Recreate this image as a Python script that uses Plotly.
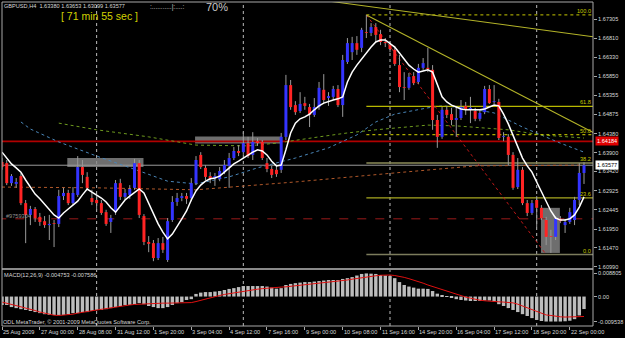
import plotly.graph_objects as go

# ---------------- data ----------------
tick_idx = list(range(0, 121, 8))
tick_labels = ["25 Aug 2009", "27 Aug 00:00", "28 Aug 08:00", "31 Aug 12:00", "1 Sep 20:00",
               "3 Sep 04:00", "4 Sep 12:00", "7 Sep 16:00", "9 Sep 00:00", "10 Sep 08:00",
               "11 Sep 16:00", "14 Sep 20:00", "16 Sep 04:00", "17 Sep 12:00", "18 Sep 20:00",
               "22 Sep 00:00"]

opens = [1.6366, 1.6363, 1.6312, 1.6310, 1.6330, 1.6261, 1.6231, 1.6246, 1.6226, 1.6215,
         1.6205, 1.6210, 1.6208, 1.6279, 1.6287, 1.6261, 1.6282, 1.6353, 1.6328, 1.6274,
         1.6269, 1.6261, 1.6238, 1.6213, 1.6238, 1.6312, 1.6277, 1.6282, 1.6300, 1.6363,
         1.6228, 1.6162, 1.6159, 1.6121, 1.6159, 1.6116, 1.6218, 1.6264, 1.6274, 1.6279,
         1.6274, 1.6312, 1.6384, 1.6351, 1.6330, 1.6325, 1.6323, 1.6340, 1.6356, 1.6376,
         1.6394, 1.6391, 1.6414, 1.6384, 1.6419, 1.6417, 1.6363, 1.6348, 1.6346, 1.6346,
         1.6430, 1.6562, 1.6511, 1.6496, 1.6516, 1.6506, 1.6486, 1.6506, 1.6550, 1.6529,
         1.6532, 1.6552, 1.6511, 1.6621, 1.6646, 1.6669, 1.6657, 1.6697, 1.6695, 1.6710,
         1.6692, 1.6672, 1.6664, 1.6652, 1.6613, 1.6557, 1.6555, 1.6585, 1.6570, 1.6606,
         1.6606, 1.6601, 1.6473, 1.6430, 1.6499, 1.6488, 1.6473, 1.6478, 1.6509, 1.6501,
         1.6496, 1.6476, 1.6493, 1.6552, 1.6519, 1.6519, 1.6430, 1.6430, 1.6384, 1.6302,
         1.6346, 1.6261, 1.6236, 1.6269, 1.6249, 1.6218, 1.6177, 1.6175, 1.6221, 1.6205,
         1.6213, 1.6218, 1.6269, 1.63380]
highs = [1.6376, 1.6371, 1.6335, 1.6325, 1.6338, 1.6269, 1.6254, 1.6251, 1.6236, 1.6228,
         1.6231, 1.6218, 1.6295, 1.6300, 1.6295, 1.6302, 1.6381, 1.6371, 1.6340, 1.6295,
         1.6279, 1.6269, 1.6244, 1.6231, 1.6320, 1.6323, 1.6297, 1.6307, 1.6374, 1.6371,
         1.6233, 1.6177, 1.6167, 1.6172, 1.6175, 1.6223, 1.6279, 1.6287, 1.6287, 1.6287,
         1.6325, 1.6381, 1.6391, 1.6358, 1.6340, 1.6338, 1.6353, 1.6371, 1.6389, 1.6404,
         1.6409, 1.6442, 1.6430, 1.6442, 1.6427, 1.6422, 1.6376, 1.6356, 1.6358, 1.6440,
         1.6588, 1.6575, 1.6521, 1.6544, 1.6532, 1.6514, 1.6529, 1.6570, 1.6590, 1.6544,
         1.6560, 1.6562, 1.6639, 1.6682, 1.6685, 1.6687, 1.6708, 1.6741, 1.6720, 1.6720,
         1.6703, 1.6682, 1.6674, 1.6662, 1.6639, 1.6595, 1.6593, 1.6595, 1.6616, 1.6631,
         1.6657, 1.6613, 1.6486, 1.6506, 1.6509, 1.6504, 1.6506, 1.6524, 1.6519, 1.6532,
         1.6504, 1.6499, 1.6560, 1.6562, 1.6562, 1.6527, 1.6442, 1.6437, 1.6391, 1.6376,
         1.6353, 1.6269, 1.6269, 1.6279, 1.6256, 1.6226, 1.6193, 1.6228, 1.6228, 1.6221,
         1.6249, 1.6277, 1.6363, 1.63653]
lows = [1.6346, 1.6307, 1.6305, 1.6300, 1.6256, 1.6159, 1.6205, 1.6213, 1.6203, 1.6198,
        1.6167, 1.6149, 1.6200, 1.6269, 1.6256, 1.6256, 1.6277, 1.6312, 1.6295, 1.6256,
        1.6244, 1.6231, 1.6203, 1.6185, 1.6231, 1.6269, 1.6269, 1.6272, 1.6295, 1.6223,
        1.6154, 1.6136, 1.6113, 1.6116, 1.6134, 1.6111, 1.6213, 1.6254, 1.6266, 1.6259,
        1.6266, 1.6307, 1.6348, 1.6320, 1.6312, 1.6305, 1.6317, 1.6335, 1.6300, 1.6371,
        1.6381, 1.6384, 1.6376, 1.6371, 1.6407, 1.6371, 1.6340, 1.6325, 1.6328, 1.6338,
        1.6422, 1.6499, 1.6486, 1.6491, 1.6499, 1.6455, 1.6481, 1.6499, 1.6516, 1.6509,
        1.6524, 1.6506, 1.6481, 1.6616, 1.6626, 1.6639, 1.6646, 1.6682, 1.6687, 1.6672,
        1.6664, 1.6659, 1.6646, 1.6611, 1.6544, 1.6524, 1.6550, 1.6562, 1.6565, 1.6601,
        1.6595, 1.6448, 1.6402, 1.6425, 1.6478, 1.6460, 1.6430, 1.6473, 1.6486, 1.6465,
        1.6470, 1.6470, 1.6488, 1.6514, 1.6514, 1.6422, 1.6419, 1.6358, 1.6295, 1.6297,
        1.6256, 1.6228, 1.6231, 1.6200, 1.6218, 1.6154, 1.6134, 1.6167, 1.6210, 1.6185,
        1.6208, 1.6205, 1.6256, 1.63099]
closes = [1.6353, 1.6312, 1.6330, 1.6315, 1.6261, 1.6231, 1.6246, 1.6223, 1.6213, 1.6205,
          1.6208, 1.6208, 1.6279, 1.6287, 1.6261, 1.6287, 1.6353, 1.6333, 1.6300, 1.6264,
          1.6261, 1.6236, 1.6208, 1.6223, 1.6312, 1.6277, 1.6287, 1.6297, 1.6363, 1.6231,
          1.6162, 1.6157, 1.6121, 1.6159, 1.6142, 1.6215, 1.6264, 1.6274, 1.6279, 1.6272,
          1.6312, 1.6371, 1.6353, 1.6328, 1.6323, 1.6330, 1.6343, 1.6358, 1.6376, 1.6394,
          1.6389, 1.6414, 1.6381, 1.6417, 1.6414, 1.6376, 1.6348, 1.6333, 1.6335, 1.6430,
          1.6562, 1.6506, 1.6493, 1.6514, 1.6509, 1.6486, 1.6506, 1.6555, 1.6524, 1.6534,
          1.6552, 1.6511, 1.6626, 1.6669, 1.6669, 1.6652, 1.6703, 1.6695, 1.6710, 1.6690,
          1.6672, 1.6669, 1.6654, 1.6616, 1.6557, 1.6555, 1.6583, 1.6567, 1.6606, 1.6618,
          1.6603, 1.6473, 1.6430, 1.6499, 1.6486, 1.6473, 1.6478, 1.6506, 1.6499, 1.6504,
          1.6476, 1.6491, 1.6552, 1.6516, 1.6521, 1.6427, 1.6432, 1.6384, 1.6300, 1.6346,
          1.6261, 1.6236, 1.6261, 1.6249, 1.6223, 1.6175, 1.6175, 1.6221, 1.6215, 1.6213,
          1.6238, 1.6269, 1.6338, 1.63577]

ma_white = [1.6391, 1.6376, 1.6361, 1.6351, 1.6340, 1.6320, 1.6302, 1.6284, 1.6272, 1.6259,
            1.6244, 1.6231, 1.6223, 1.6236, 1.6246, 1.6256, 1.6266, 1.6282, 1.6297, 1.6289,
            1.6282, 1.6274, 1.6264, 1.6249, 1.6238, 1.6254, 1.6269, 1.6279, 1.6287, 1.6297,
            1.6287, 1.6261, 1.6231, 1.6208, 1.6187, 1.6170, 1.6182, 1.6203, 1.6221, 1.6241,
            1.6269, 1.6292, 1.6307, 1.6317, 1.6323, 1.6325, 1.6330, 1.6340, 1.6351, 1.6361,
            1.6368, 1.6376, 1.6384, 1.6391, 1.6397, 1.6394, 1.6384, 1.6368, 1.6356, 1.6358,
            1.6397, 1.6440, 1.6465, 1.6476, 1.6481, 1.6488, 1.6499, 1.6509, 1.6516, 1.6521,
            1.6524, 1.6527, 1.6532, 1.6570, 1.6595, 1.6613, 1.6629, 1.6646, 1.6659, 1.6672,
            1.6677, 1.6677, 1.6669, 1.6659, 1.6644, 1.6629, 1.6613, 1.6603, 1.6595, 1.6598,
            1.6601, 1.6595, 1.6562, 1.6532, 1.6519, 1.6511, 1.6506, 1.6501, 1.6499, 1.6499,
            1.6499, 1.6499, 1.6501, 1.6506, 1.6511, 1.6509, 1.6488, 1.6463, 1.6435, 1.6404,
            1.6376, 1.6356, 1.6340, 1.6315, 1.6289, 1.6266, 1.6241, 1.6223, 1.6218, 1.6218,
            1.6221, 1.6231, 1.6251, 1.6277]

ma_blue_idx = [4, 6, 12, 20, 29, 35, 41, 48, 54, 62, 69, 75, 79, 83, 90, 93, 98, 104, 110, 118, 123]
ma_blue_val = [1.6468, 1.6450, 1.6417, 1.6381, 1.6343, 1.6317, 1.6310, 1.6328, 1.6351, 1.6376,
               1.6402, 1.6435, 1.6468, 1.6488, 1.6504, 1.6509, 1.6504, 1.6491, 1.6455, 1.6414, 1.6391]
ma_green_idx = [12, 20, 31, 41, 52, 58, 67, 73, 79, 90, 96, 107, 114, 123]
ma_green_val = [1.6465, 1.6448, 1.6430, 1.6409, 1.6407, 1.6414, 1.6430, 1.6440, 1.6448, 1.6460,
                1.6458, 1.6448, 1.6435, 1.6427]
ma_orange_idx = [0, 20, 41, 62, 83, 100, 123]
ma_orange_val = [1.6302, 1.6300, 1.6295, 1.6315, 1.6338, 1.6356, 1.6358]

macd_hist = [-0.0032, -0.0032, -0.0040, -0.0044, -0.0048, -0.0051, -0.0055, -0.0059, -0.0063, -0.0067,
             -0.0070, -0.0070, -0.0070, -0.0070, -0.0067, -0.0063, -0.0063, -0.0059, -0.0059, -0.0055,
             -0.0051, -0.0051, -0.0048, -0.0044, -0.0040, -0.0036, -0.0032, -0.0032, -0.0029, -0.0025,
             -0.0029, -0.0036, -0.0040, -0.0044, -0.0044, -0.0040, -0.0032, -0.0025, -0.0021, -0.0013,
             -0.0010, 0.0010, 0.0015, 0.0017, 0.0017, 0.0019, 0.0021, 0.0025, 0.0029, 0.0032,
             0.0036, 0.0040, 0.0040, 0.0040, 0.0040, 0.0040, 0.0038, 0.0034, 0.0030, 0.0032,
             0.0044, 0.0048, 0.0051, 0.0053, 0.0055, 0.0055, 0.0057, 0.0059, 0.0061, 0.0063,
             0.0063, 0.0063, 0.0067, 0.0070, 0.0074, 0.0080, 0.0086, 0.0088, 0.0087, 0.0086,
             0.0082, 0.0080, 0.0078, 0.0070, 0.0055, 0.0044, 0.0038, 0.0034, 0.0030, 0.0030,
             0.0029, 0.0021, 0.0011, 0.0006, 0.0002, -0.0004, -0.0010, -0.0013, -0.0015, -0.0017,
             -0.0017, -0.0017, -0.0015, -0.0015, -0.0019, -0.0029, -0.0036, -0.0044, -0.0051, -0.0059,
             -0.0067, -0.0074, -0.0082, -0.0089, -0.0093, -0.0095, -0.0095, -0.0095, -0.0095, -0.0094,
             -0.0092, -0.0086, -0.0072, -0.004753]
macd_signal = [-0.0021, -0.0025, -0.0030, -0.0034, -0.0039, -0.0044, -0.0048, -0.0053, -0.0059, -0.0064,
               -0.0068, -0.0071, -0.0072, -0.0071, -0.0069, -0.0067, -0.0063, -0.0061, -0.0057, -0.0054,
               -0.0051, -0.0048, -0.0045, -0.0043, -0.0040, -0.0037, -0.0035, -0.0032, -0.0030, -0.0029,
               -0.0027, -0.0027, -0.0025, -0.0025, -0.0025, -0.0025, -0.0025, -0.0025, -0.0024, -0.0024,
               -0.0023, -0.0019, -0.0014, -0.0010, -0.0005, 0.0000, 0.0004, 0.0008, 0.0011, 0.0015,
               0.0018, 0.0021, 0.0023, 0.0025, 0.0028, 0.0030, 0.0032, 0.0034, 0.0035, 0.0036,
               0.0037, 0.0039, 0.0040, 0.0041, 0.0043, 0.0045, 0.0047, 0.0049, 0.0051, 0.0054,
               0.0056, 0.0058, 0.0060, 0.0063, 0.0066, 0.0069, 0.0072, 0.0074, 0.0077, 0.0079,
               0.0081, 0.0082, 0.0082, 0.0080, 0.0077, 0.0073, 0.0068, 0.0063, 0.0057, 0.0051,
               0.0044, 0.0038, 0.0032, 0.0025, 0.0019, 0.0013, 0.0008, 0.0003, -0.0002, -0.0006,
               -0.0011, -0.0014, -0.0016, -0.0018, -0.0019, -0.0020, -0.0021, -0.0022, -0.0024, -0.0029,
               -0.0036, -0.0044, -0.0051, -0.0057, -0.0064, -0.0070, -0.0072, -0.0075, -0.0077, -0.0078,
               -0.0078, -0.0078, -0.0077, -0.007586]

price_ticks = [1.67305, 1.66810, 1.66330, 1.65850, 1.65355, 1.64875, 1.64380, 1.63900,
               1.63420, 1.62925, 1.62445, 1.61950, 1.61470, 1.60990]
macd_ticks = [0.008805, 0.0, -0.009538]
macd_tick_text = ["0.008805", "0.00", "-0.009538"]

fib_high, fib_low = 1.6741, 1.6130
fib_start, fib_end_bar = 77, 115
fib_levels = [1.0, 0.618, 0.5, 0.382, 0.236, 0.0]
fib_text = ["100.0", "61.8", "50.0", "38.2", "23.6", "0.0"]

trend_a = [(69.7, 1.6775), (125.1, 1.6685)]
trend_b = [(77, 1.6741), (125.1, 1.6440)]
red_level = 1.64184
dash_level = 1.6221
bid = 1.63577
boxes = [(13.8, 29.9, 1.6353, 1.6376), (40.8, 59.0, 1.6413, 1.6431), (113.9, 117.9, 1.6134, 1.6249)]
separators = [20, 51, 82, 113]

# ---------------- layout helpers ----------------
W, H = 625, 338
ML, MR, MT, MB = 2, 26, 2, 12
PW, PH = W - ML - MR, H - MT - MB
def pxx(x): return (x - ML) / PW
def pyy(y): return (H - MB - y) / PH

FONT = "Liberation Sans"
n = len(closes)
idx = list(range(n))
XMAX = 124.9
fig = go.Figure()

# MACD
fig.add_trace(go.Bar(x=idx, y=macd_hist, width=0.72, marker=dict(color="#bdbdbd", line=dict(width=0)),
                     xaxis="x", yaxis="y2", hoverinfo="skip"))
fig.add_trace(go.Scatter(x=idx, y=macd_signal, mode="lines", line=dict(color="#e01010", width=1),
                         xaxis="x", yaxis="y2", hoverinfo="skip"))

# horizontal lines
fig.add_trace(go.Scatter(x=[-1, XMAX + 1], y=[red_level] * 2, mode="lines",
                         line=dict(color="#b00000", width=1.6), hoverinfo="skip"))
fig.add_trace(go.Scatter(x=[-1, XMAX + 1], y=[dash_level] * 2, mode="lines",
                         line=dict(color="#9a1a1a", width=1, dash="dash"), hoverinfo="skip"))
fig.add_trace(go.Scatter(x=[-1, XMAX + 1], y=[bid] * 2, mode="lines",
                         line=dict(color="#9a9a9a", width=1), hoverinfo="skip"))

# long moving averages
for xi, yv, col in [(ma_blue_idx, ma_blue_val, "#4a86b8"), (ma_green_idx, ma_green_val, "#6e9a1e"),
                    (ma_orange_idx, ma_orange_val, "#b0582a")]:
    fig.add_trace(go.Scatter(x=xi, y=yv, mode="lines", line=dict(color=col, width=1, dash="dot"),
                             hoverinfo="skip"))

# fibonacci levels
fib_cols = ["#c8c800", "#b8b800", "#d8d800", "#8c8c5a", "#a8a820", "#7c7c5c"]
fib_dash = ["dot", "solid", "dot", "solid", "solid", "solid"]
fib_w = [1, 1.3, 1, 1.6, 1.3, 1.6]
for lv, c, d, w in zip(fib_levels, fib_cols, fib_dash, fib_w):
    v = fib_low + lv * (fib_high - fib_low)
    fig.add_trace(go.Scatter(x=[fib_start, XMAX + 1], y=[v, v], mode="lines",
                             line=dict(color=c, width=w, dash=d), hoverinfo="skip"))
fig.add_trace(go.Scatter(x=[fib_start, fib_end_bar], y=[fib_high, fib_low], mode="lines",
                         line=dict(color="#c01818", width=1, dash="dot"), hoverinfo="skip"))

# trend lines
for (a, b) in [trend_a, trend_b]:
    fig.add_trace(go.Scatter(x=[a[0], b[0]], y=[a[1], b[1]], mode="lines",
                             line=dict(color="#b4b428", width=1.1), hoverinfo="skip"))

# candles: wicks
wx, wy = [], []
for i in idx:
    wx += [i, i, None]
    wy += [lows[i], highs[i], None]
fig.add_trace(go.Scatter(x=wx, y=wy, mode="lines", line=dict(color="#9a9a9a", width=1), hoverinfo="skip"))
# bodies
MINB = 0.0001
for up, col in [(True, "#3434ff"), (False, "#ff2424")]:
    bx, by = [], []
    for i in idx:
        o, c = opens[i], closes[i]
        if (c >= o) != up:
            continue
        lo, hi = min(o, c), max(o, c)
        if hi - lo < MINB:
            m = (hi + lo) / 2
            lo, hi = m - MINB / 2, m + MINB / 2
        bx += [i, i, None]
        by += [lo, hi, None]
    fig.add_trace(go.Scatter(x=bx, y=by, mode="lines", line=dict(color=col, width=3), hoverinfo="skip"))

# white MA
fig.add_trace(go.Scatter(x=idx, y=ma_white, mode="lines", line=dict(color="#ffffff", width=1.5),
                         hoverinfo="skip"))

shapes = []
for (x0, x1, y0, y1) in boxes:
    shapes.append(dict(type="rect", xref="x", yref="y", x0=x0, x1=x1, y0=y0, y1=y1,
                       fillcolor="#8a8a8a", opacity=0.8, line=dict(width=0), layer="below"))
for s in separators:
    shapes.append(dict(type="line", xref="x", yref="paper", x0=s, x1=s, y0=0, y1=1,
                       line=dict(color="#bcbcbc", width=1, dash="dot"), layer="below"))
shapes.append(dict(type="line", xref="paper", yref="paper", x0=0, x1=1, y0=pyy(269), y1=pyy(269),
                   line=dict(color="#8a8a8a", width=2)))
shapes.append(dict(type="rect", xref="paper", yref="paper", x0=0, x1=1, y0=0, y1=1,
                   line=dict(color="#a8a8a8", width=1)))

anns = []
def txt(x, y, s, size=5.6, color="#d8d8d8", xanchor="left", yanchor="middle", **kw):
    anns.append(dict(xref="paper", yref="paper", x=pxx(x), y=pyy(y), text=s, showarrow=False,
                     xanchor=xanchor, yanchor=yanchor, font=dict(family=FONT, size=size, color=color),
                     borderpad=0, **kw))

txt(3, 6, "GBPUSD,H4  1.63380 1.63653 1.63099 1.63577")
txt(61, 16, "[ 71 min 55 sec ]", size=10.5, color="#d2d200")
txt(150, 7, ":...........|:....:", size=6.5, color="#c8c8c8")
txt(207, 7, "70%", size=11, color="#c8c8c8")
txt(3, 275, "MACD(12,26,9) -0.004753 -0.007586")
txt(2, 322, "ODL MetaTrader, © 2001-2009 MetaQuotes Software Corp.")
txt(5, 216, "#9759304", color="#909090")

for t, lab in zip(tick_idx, tick_labels):
    anns.append(dict(xref="x", yref="paper", x=t, y=pyy(332), text=lab, showarrow=False,
                     xanchor="left", yanchor="middle", borderpad=0,
                     font=dict(family=FONT, size=5.6, color="#d8d8d8")))
for lv, s in zip(fib_levels, fib_text):
    v = fib_low + lv * (fib_high - fib_low)
    anns.append(dict(xref="paper", yref="y", x=pxx(598), y=v, text=s, showarrow=False,
                     xanchor="right", yanchor="bottom", borderpad=0,
                     font=dict(family=FONT, size=5.6, color="#c8c800")))
anns.append(dict(xref="paper", yref="y", x=pxx(601), y=red_level, text="1.64184", showarrow=False,
                 xanchor="left", yanchor="middle", bgcolor="#e00000", borderpad=1,
                 font=dict(family=FONT, size=5.6, color="#ffffff")))
anns.append(dict(xref="paper", yref="y", x=pxx(601), y=bid, text="1.63577", showarrow=False,
                 xanchor="left", yanchor="middle", bgcolor="#ffffff", borderpad=1,
                 font=dict(family=FONT, size=5.6, color="#000000")))

fig.update_layout(
    width=W, height=H, margin=dict(l=ML, r=MR, t=MT, b=MB),
    paper_bgcolor="#000000", plot_bgcolor="#000000", showlegend=False, barmode="overlay",
    shapes=shapes, annotations=anns,
    xaxis=dict(range=[0, XMAX], showgrid=False, zeroline=False, showline=False, anchor="y2",
               tickvals=tick_idx, showticklabels=False, ticks="outside", ticklen=3, tickcolor="#a8a8a8"),
    yaxis=dict(domain=[pyy(268), 1], range=[1.60956, 1.67739], side="right", anchor="x",
               showgrid=False, zeroline=False, tickvals=price_ticks,
               ticktext=["%.5f" % v for v in price_ticks], ticks="outside", ticklen=3,
               tickcolor="#a8a8a8", tickfont=dict(family=FONT, size=5.6, color="#d8d8d8")),
    yaxis2=dict(domain=[0, pyy(270)], range=[-0.0112, 0.0101], side="right", anchor="x",
                showgrid=False, zeroline=False, tickvals=macd_ticks, ticktext=macd_tick_text,
                ticks="outside", ticklen=3, tickcolor="#a8a8a8",
                tickfont=dict(family=FONT, size=5.6, color="#d8d8d8")),
)

fig.write_html("out.html")
